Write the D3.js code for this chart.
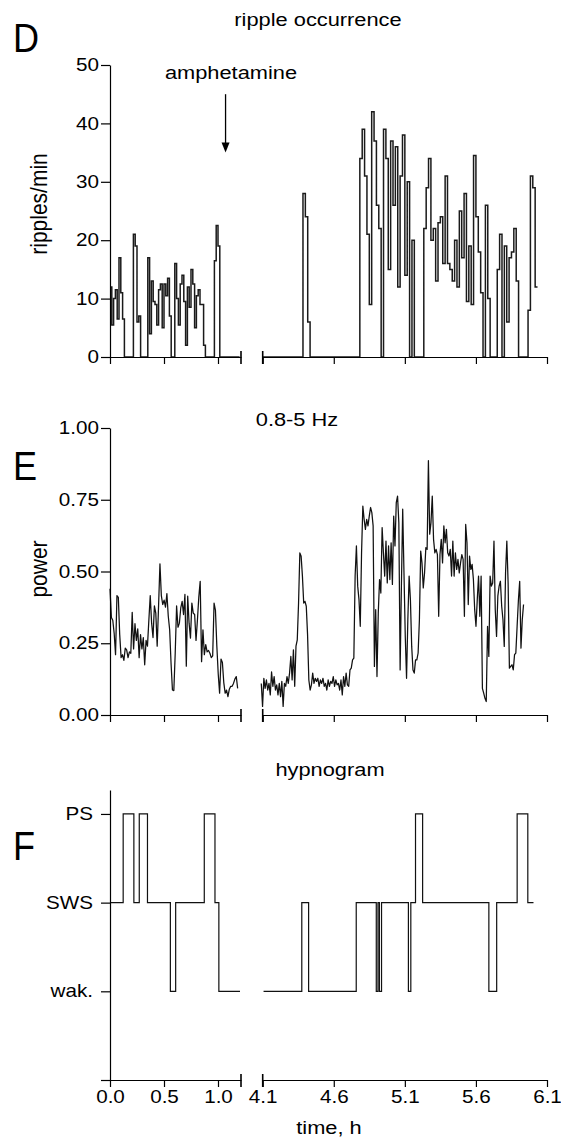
<!DOCTYPE html>
<html><head><meta charset="utf-8">
<script src="https://cdn.jsdelivr.net/npm/d3@7"></script>
<style>
body{margin:0;background:#fff}
text{font-family:"Liberation Sans",Arial,sans-serif;fill:#000}
</style>
</head><body>
<svg id="c" width="561" height="1140"></svg>
<script>
// ---------- data ----------
const seg1 = [0, 1.213];
const seg2 = [4.1, 6.1];
const xTicks1 = [0.0, 0.5, 1.0];
const xTicks2 = [4.1, 4.6, 5.1, 5.6, 6.1];
const rippleTicks = [0, 10, 20, 30, 40, 50];
const powerTicks = [0, 0.25, 0.5, 0.75, 1.0];
const stateNames = ["", "wak.", "SWS", "PS"];
const binHours = 1 / 60;           // ripple counts per 1-min bin
const rippleStart1 = 0.0;
const rippleStart2 = 4.1;
const ripples1 = [12,5.5,10,11.5,6.5,17,11,6.5,0,0,0,0,0,21,19,6,7,0,0,0,0,17,4,13,9.5,9,5.5,11.5,12.5,5,12.5,10.5,13.5,7,0,0,16,10,5.5,12.5,14,9.5,2,12,8.5,15,12.5,5,10.5,11.5,9,9,2,0,0,0,0,0,16.5,22.5,19,0,0,0,0,0,0,0,0,0,0,0];
const ripples2 = [0,0,0,0,0,0,0,0,0,0,0,0,0,0,0,0,0,28,24,6,0,0,0,0,0,0,0,0,0,0,0,0,0,0,0,0,0,0,0,0,0,
  34,39,31,21,9,42,37,26,22,0,39,34,15,37,26,36,12,31,38,14,30,0,20,0,0,0,0,
  22,29,34,20,22,13,23,24,16,31,16,15,13,20,12,25,17,28,9.5,19,9,34.5,24,18,11,0,26,10,0,0,0,15,21,0,19,6,17,18,22,13,0,0,0,0,8,31,29,12];
const powerSpan1 = [0.0, 1.182];
const power1 = [0.44,0.34,0.33,0.285,0.21,0.416,0.41,0.28,0.2,0.21,
  0.19,0.233,0.227,0.2,0.22,0.215,0.358,0.23,0.318,0.26,
  0.3,0.2,0.28,0.23,0.27,0.175,0.26,0.24,0.33,0.416,
  0.32,0.27,0.38,0.355,0.24,0.38,0.527,0.416,0.385,0.40,
  0.376,0.423,0.344,0.297,0.18,0.087,0.085,0.215,0.38,0.306,
  0.32,0.373,0.396,0.35,0.42,0.17,0.414,0.32,0.268,0.39,
  0.355,0.35,0.26,0.33,0.411,0.466,0.186,0.297,0.21,0.245,
  0.22,0.225,0.215,0.2,0.206,0.39,0.365,0.24,0.143,0.076,
  0.195,0.183,0.113,0.076,0.087,0.064,0.09,0.1,0.1,0.11,
  0.125,0.134,0.093];
const powerSpan2 = [4.09, 5.935];
const power2 = [0.11,0.03,0.128,0.093,0.122,0.087,0.11,0.07,0.15,0.1,
  0.134,0.087,0.105,0.07,0.11,0.064,0.117,0.03,0.11,0.1,
  0.134,0.11,0.146,0.204,0.122,0.227,0.1,0.24,0.262,0.39,
  0.565,0.553,0.484,0.39,0.396,0.379,0.28,0.122,0.087,0.105,
  0.146,0.11,0.128,0.117,0.128,0.1,0.122,0.11,0.128,0.1,
  0.11,0.087,0.122,0.1,0.117,0.11,0.134,0.1,0.122,0.105,
  0.11,0.087,0.122,0.07,0.134,0.1,0.146,0.105,0.1,0.157,
  0.163,0.192,0.198,0.484,0.589,0.449,0.402,0.309,0.565,0.728,
  0.682,0.647,0.682,0.659,0.693,0.723,0.705,0.659,0.169,0.367,
  0.134,0.355,0.472,0.425,0.653,0.565,0.484,0.606,0.46,0.589,
  0.472,0.6,0.455,0.693,0.589,0.74,0.763,0.67,0.157,0.45,
  0.717,0.495,0.274,0.128,0.332,0.484,0.402,0.239,0.157,0.146,
  0.192,0.192,0.216,0.332,0.571,0.53,0.443,0.495,0.583,0.577,
  0.886,0.63,0.67,0.763,0.612,0.565,0.577,0.559,0.344,0.559,
  0.612,0.53,0.659,0.6,0.647,0.565,0.554,0.577,0.484,0.606,
  0.484,0.565,0.507,0.542,0.495,0.53,0.559,0.542,0.344,0.664,
  0.6,0.385,0.554,0.507,0.525,0.472,0.367,0.309,0.402,0.484,
  0.344,0.484,0.093,0.076,0.058,0.047,0.309,0.204,0.484,0.449,
  0.46,0.606,0.367,0.274,0.414,0.449,0.466,0.379,0.332,0.239,
  0.495,0.606,0.46,0.163,0.169,0.175,0.157,0.21,0.216,0.309,
  0.4,0.466,0.233,0.332,0.385];
const hypTimes1 = [0, 0.122, 0.221, 0.271, 0.347, 0.559, 0.608, 0.873, 0.972, 1.008, 1.204];
const hypStates1 = ["SWS","PS","SWS","PS","SWS","wak.","SWS","PS","SWS","wak.","wak."];
const hypTimes2 = [4.106, 4.375, 4.423, 4.758, 4.899, 4.911, 4.921, 4.936, 5.125, 5.142, 5.175, 5.225, 5.691, 5.746, 5.89, 5.965, 6.005];
const hypStates2 = ["wak.","SWS","wak.","SWS","wak.","SWS","wak.","SWS","wak.","SWS","PS","SWS","wak.","SWS","PS","SWS","SWS"];
const drugTime = 1.07;
const arrowFromTo = [45, 35];

// ---------- scales ----------
const svg = d3.select("#c");
const FS = 17.5, TS = 18.5, SX = 1.18;
const FONT = '"Liberation Sans",Arial,sans-serif';
const x1 = d3.scaleLinear().domain(seg1).range([110, 241]);
const x2 = d3.scaleLinear().domain(seg2).range([262.7, 547]);
const yR = d3.scaleLinear().domain([0, 50]).range([357, 65]);
const yP = d3.scaleLinear().domain([0, 1]).range([715, 428]);
const yH = d3.scaleLinear().domain([0, 3.27]).range([1080, 790]);

function label(x, y, s, size, anchor, rot, sx) {
  const t = svg.append("text").text(s)
    .attr("font-size", size).attr("text-anchor", anchor || "middle");
  if (rot) t.attr("transform", `translate(${x},${y}) rotate(-90) scale(1,${SX})`);
  else t.attr("transform", `translate(${x},${y}) scale(${sx || SX},1)`);
  return t;
}
function styleAxis(g) {
  g.selectAll("path,line").attr("stroke", "#000").attr("stroke-width", 1.2);
  g.selectAll("text").attr("font-size", FS).attr("font-family", FONT)
    .attr("fill", "#000").each(function () {
      const el = d3.select(this);
      el.attr("transform", `scale(${SX},1)`);
      const x = +el.attr("x") || 0;
      el.attr("x", x / SX);
    });
}
function xAxes(yScale, withLabels) {
  const y0 = yScale(0);
  const fmt = withLabels ? d3.format(".1f") : "";
  const a1 = d3.axisBottom(x1).tickValues(xTicks1).tickSize(7).tickSizeOuter(0).tickPadding(4).tickFormat(fmt);
  const a2 = d3.axisBottom(x2).tickValues(xTicks2).tickSize(7).tickSizeOuter(0).tickPadding(4).tickFormat(fmt);
  const g1 = svg.append("g").attr("transform", `translate(0,${y0})`).call(a1);
  const g2 = svg.append("g").attr("transform", `translate(0,${y0})`).call(a2);
  styleAxis(g1); styleAxis(g2);
  [[x1, seg1[1]], [x2, seg2[0]]].forEach(([sc, v]) => {
    svg.append("line").attr("x1", sc(v)).attr("x2", sc(v))
      .attr("y1", y0 - 6).attr("y2", y0 + 7).attr("stroke", "#000").attr("stroke-width", 1.6);
  });
}
function yAxis(yScale, ticks, fmt, pad) {
  const a = d3.axisLeft(yScale).tickValues(ticks).tickSize(9).tickPadding(pad).tickSizeOuter(0).tickFormat(fmt);
  const g = svg.append("g").attr("transform", `translate(${x1(0)},0)`).call(a);
  styleAxis(g);
}

// ---------- panel D: ripples ----------
function rippleLine(vals, start, xs) {
  const pts = vals.map((v, i) => [start + i * binHours, v]);
  pts.push([start + vals.length * binHours, vals[vals.length - 1]]);
  const line = d3.line().x(d => xs(d[0])).y(d => yR(d[1])).curve(d3.curveStepAfter);
  svg.append("path").attr("d", line(pts)).attr("fill", "none")
    .attr("stroke", "#1a1a1a").attr("stroke-width", 1.5);
}
rippleLine(ripples1, rippleStart1, x1);
rippleLine(ripples2, rippleStart2, x2);
yAxis(yR, rippleTicks, d3.format("d"), 2);
xAxes(yR, false);

// ---------- panel E: power ----------
function powerLine(vals, span, xs) {
  const step = (span[1] - span[0]) / (vals.length - 1);
  const line = d3.line().x((d, i) => xs(span[0] + i * step)).y(d => yP(d));
  svg.append("path").attr("d", line(vals)).attr("fill", "none")
    .attr("stroke", "#111").attr("stroke-width", 1.25).attr("stroke-linejoin", "round");
}
powerLine(power1, powerSpan1, x1);
powerLine(power2, powerSpan2, x2);
yAxis(yP, powerTicks, d3.format(".2f"), 2);
xAxes(yP, false);

// ---------- panel F: hypnogram ----------
function hypLine(times, states, xs) {
  const pts = times.map((t, i) => [t, stateNames.indexOf(states[i])]);
  const line = d3.line().x(d => xs(d[0])).y(d => yH(d[1])).curve(d3.curveStepAfter);
  svg.append("path").attr("d", line(pts)).attr("fill", "none")
    .attr("stroke", "#111").attr("stroke-width", 1.2);
}
hypLine(hypTimes1, hypStates1, x1);
hypLine(hypTimes2, hypStates2, x2);
yAxis(yH, [0, 1, 2, 3], i => stateNames[i], 8);
xAxes(yH, true);

// ---------- annotations ----------
const ax = x1(drugTime);
svg.append("line").attr("x1", ax).attr("x2", ax)
  .attr("y1", yR(arrowFromTo[0])).attr("y2", yR(arrowFromTo[1]) - 9)
  .attr("stroke", "#000").attr("stroke-width", 1.3);
svg.append("path")
  .attr("d", `M${ax - 4},${yR(arrowFromTo[1]) - 10} L${ax + 4},${yR(arrowFromTo[1]) - 10} L${ax},${yR(arrowFromTo[1])} Z`)
  .attr("fill", "#000");

label(231, 79, "amphetamine", TS);
label(318, 26, "ripple occurrence", TS);
label(297, 426, "0.8-5 Hz", TS);
label(330, 776, "hypnogram", TS);
label(329, 1134, "time, h", TS);
label(47, 204, "ripples/min", 21, "middle", true);
label(47, 569, "power", 21, "middle", true);
label(13, 52, "D", 41, "start", false, 0.88);
label(13, 480, "E", 41, "start", false, 0.88);
label(13, 860, "F", 41, "start", false, 0.88);
</script>
</body></html>
